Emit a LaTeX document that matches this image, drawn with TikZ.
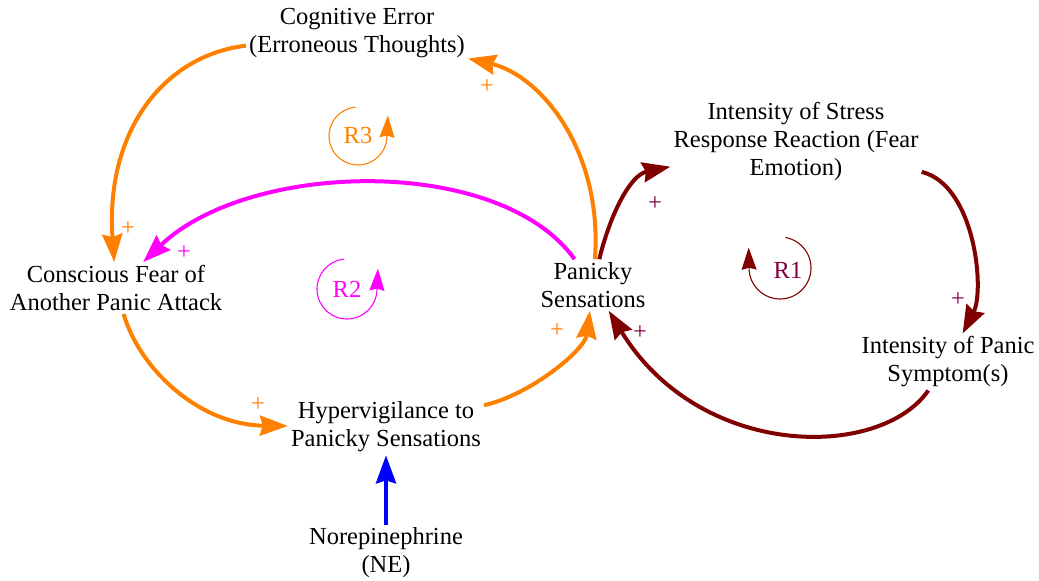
\documentclass[tikz,border=0pt]{standalone}
\usepackage{fontspec}
\setmainfont{Liberation Serif}
\usetikzlibrary{arrows.meta}
\definecolor{loopred}{RGB}{128,0,0}
\definecolor{looporange}{RGB}{255,128,0}
\definecolor{loopmagenta}{RGB}{255,0,255}
\definecolor{loopblue}{RGB}{0,0,255}
\definecolor{rlabel}{RGB}{128,0,64}

\begin{document}
\begin{tikzpicture}[x=1pt, y=-1pt,
  var/.style={align=center, inner sep=3pt, font=\fontsize{24.5}{28}\selectfont},
  pol/.style={inner sep=0pt, font=\fontsize{24.5}{28}\selectfont},
  link/.style={-{Stealth[length=28pt, width=20pt, inset=3pt]}, line width=4pt},
  loopmark/.style={-{Stealth[length=22pt, width=15pt, inset=2pt]}, line width=1.1pt}
]
\useasboundingbox (0,0) rectangle (1039,581);

% variables
\node[var] (cog) at (357,33) {Cognitive Error\\(Erroneous Thoughts)};
\node[var] (stress) at (796,141) {Intensity of Stress\\Response Reaction (Fear\\Emotion)};
\node[var] (fear) at (116,288) {Conscious Fear of\\Another Panic Attack};
\node[var] (pan) at (593,285) {Panicky\\Sensations};
\node[var] (sym) at (948,362) {Intensity of Panic\\Symptom(s)};
\node[var] (hyp) at (386,427) {Hypervigilance to\\Panicky Sensations};
\node[var] (ne) at (386,553) {Norepinephrine\\(NE)};

% loop R3 (orange)
\draw[link, looporange] (pan) .. controls (603,150) and (540,75) .. (cog);
\draw[link, looporange] (cog) .. controls (165,55) and (105,130) .. (fear);
\draw[link, looporange] (fear) .. controls (140,370) and (200,425) .. (hyp);
\draw[link, looporange] (hyp) .. controls (530,395) and (585,350) .. (pan);

% loop R2 (magenta)
\draw[link, loopmagenta] (pan) .. controls (500,155) and (250,160) .. (fear);

% loop R1 (dark red)
\draw[link, loopred] (pan) .. controls (610,215) and (630,175) .. (stress);
\draw[link, loopred] (stress) .. controls (975,185) and (985,290) .. (sym);
\draw[link, loopred] (sym) .. controls (880,460) and (700,460) .. (pan);

% external input
\draw[link, loopblue] (ne) -- (hyp);

% polarities
\node[pol, looporange] (p1) at (487,87) {+};
\node[pol, looporange] (p2) at (128,229) {+};
\node[pol, looporange] (p3) at (258,405) {+};
\node[pol, looporange] (p4) at (557,331) {+};
\node[pol, loopmagenta] (p5) at (184,253) {+};
\node[pol, rlabel] (p6) at (655,204) {+};
\node[pol, rlabel] (p7) at (958,300) {+};
\node[pol, rlabel] (p8) at (640,333) {+};

% loop markers
\node[pol, looporange] (r3) at (358,136) {R3};
\draw[loopmark, looporange] ([shift={(95:29pt)}]r3.center)
  arc[start angle=95, end angle=355, radius=29pt] -- ++(1,-23);
\node[pol, loopmagenta] (r2) at (347,289) {R2};
\draw[loopmark, loopmagenta] ([shift={(95:30pt)}]r2.center)
  arc[start angle=95, end angle=355, radius=30pt] -- ++(1,-23);
\node[pol, rlabel] (r1) at (788,270) {R1};
\draw[loopmark, loopred] ([shift={(80:31pt)}]780,268)
  arc[start angle=80, end angle=-175, radius=31pt] -- ++(-0.5,-23);

\end{tikzpicture}
\end{document}
